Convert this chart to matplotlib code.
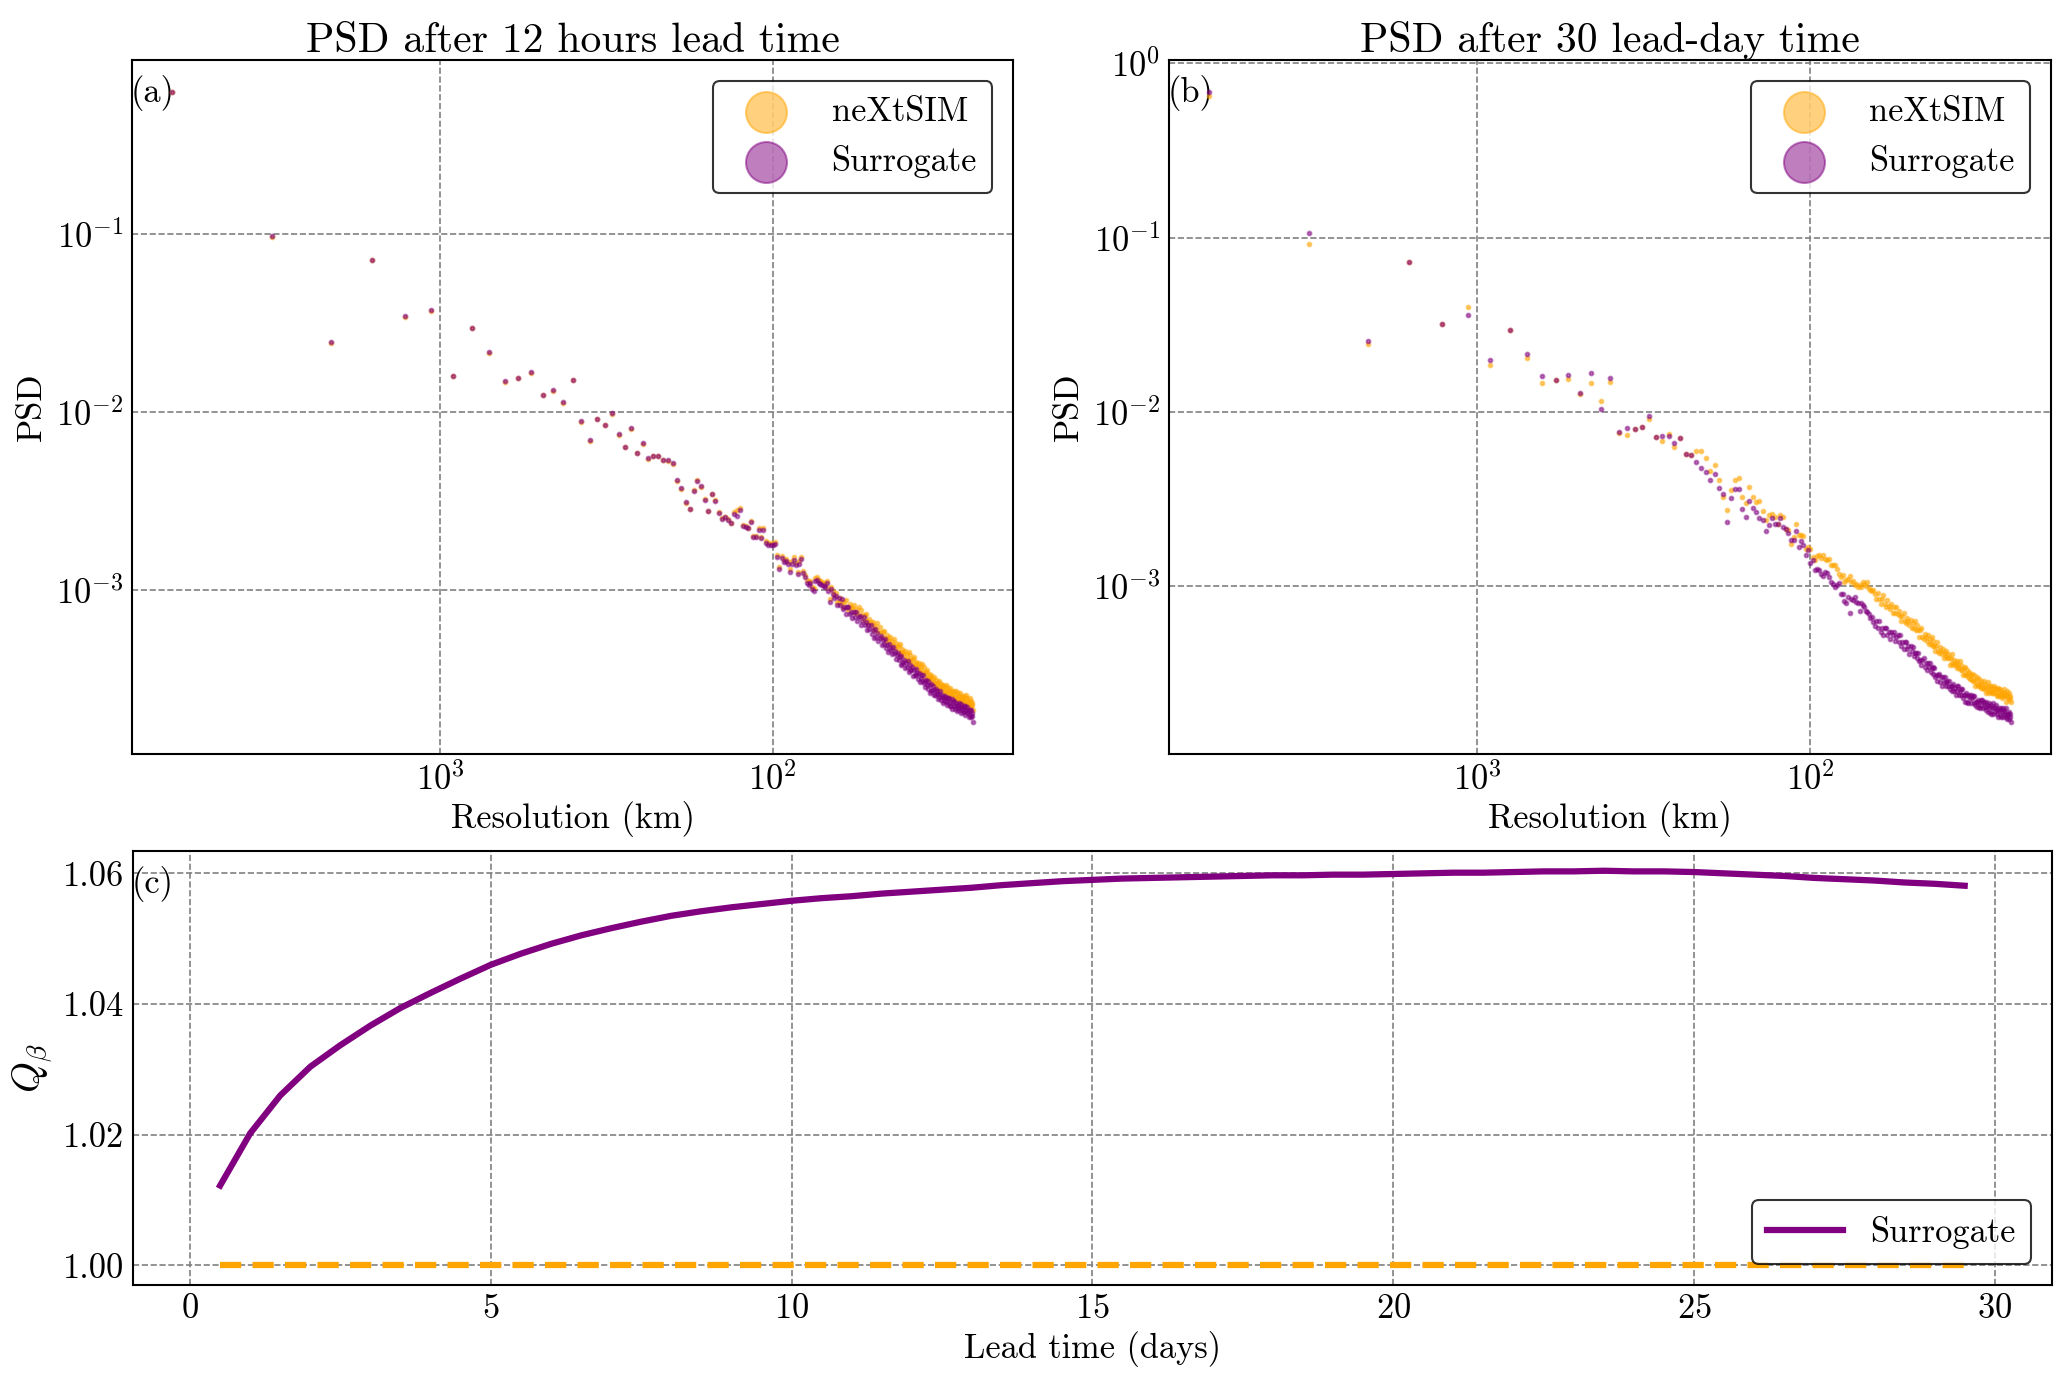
import numpy as np
import matplotlib
matplotlib.use("Agg")
import matplotlib.pyplot as plt

# ---------------- data ----------------
domain_km = 6400.0
wavenumber = np.arange(1, 257)

log_psd_a_nextsim = [
    -0.205, -1.020, -1.615, -1.146, -1.466, -1.431, -1.800, -1.530, -1.667, -1.832,
    -1.812, -1.782, -1.906, -1.880, -1.948, -1.822, -2.055, -2.162, -2.042, -2.074,
    -2.012, -2.128, -2.200, -2.095, -2.233, -2.178, -2.263, -2.249, -2.248, -2.270,
    -2.275, -2.291, -2.386, -2.432, -2.510, -2.547, -2.440, -2.385, -2.421, -2.492,
    -2.555, -2.460, -2.497, -2.562, -2.596, -2.588, -2.603, -2.622, -2.565, -2.553,
    -2.541, -2.636, -2.642, -2.650, -2.614, -2.698, -2.695, -2.652, -2.702, -2.650,
    -2.728, -2.738, -2.735, -2.740, -2.733, -2.805, -2.872, -2.812, -2.835, -2.825,
    -2.842, -2.885, -2.838, -2.818, -2.848, -2.900, -2.840, -2.815, -2.895, -2.918,
    -2.945, -2.958, -2.950, -2.982, -2.992, -2.934, -2.930, -2.945, -2.952, -2.958,
    -2.962, -2.968, -2.950, -2.990, -3.050, -2.982, -3.008, -3.028, -3.018, -3.068,
    -3.072, -3.043, -3.068, -3.099, -3.068, -3.058, -3.097, -3.111, -3.080, -3.095,
    -3.104, -3.085, -3.130, -3.105, -3.130, -3.095, -3.145, -3.115, -3.140, -3.170,
    -3.142, -3.133, -3.175, -3.192, -3.163, -3.180, -3.197, -3.178, -3.225, -3.202,
    -3.218, -3.185, -3.237, -3.208, -3.235, -3.267, -3.238, -3.230, -3.270, -3.285,
    -3.255, -3.270, -3.285, -3.265, -3.310, -3.285, -3.310, -3.275, -3.326, -3.297,
    -3.313, -3.344, -3.315, -3.306, -3.347, -3.363, -3.334, -3.350, -3.364, -3.343,
    -3.388, -3.362, -3.386, -3.350, -3.399, -3.368, -3.393, -3.422, -3.391, -3.380,
    -3.419, -3.433, -3.403, -3.417, -3.431, -3.410, -3.454, -3.428, -3.453, -3.417,
    -3.466, -3.435, -3.460, -3.489, -3.459, -3.448, -3.488, -3.503, -3.472, -3.487,
    -3.501, -3.481, -3.526, -3.500, -3.525, -3.488, -3.536, -3.504, -3.526, -3.554,
    -3.522, -3.510, -3.548, -3.561, -3.529, -3.541, -3.554, -3.532, -3.575, -3.547,
    -3.569, -3.532, -3.579, -3.546, -3.569, -3.596, -3.563, -3.551, -3.588, -3.600,
    -3.568, -3.580, -3.592, -3.570, -3.612, -3.583, -3.605, -3.566, -3.613, -3.580,
    -3.601, -3.628, -3.594, -3.581, -3.617, -3.629, -3.595, -3.607, -3.619, -3.595,
    -3.637, -3.609, -3.631, -3.593, -3.639, -3.606, -3.628, -3.655, -3.622, -3.609,
    -3.646, -3.658, -3.624, -3.636, -3.648, -3.675,
]

log_psd_a_surrogate = [
    -0.200, -1.013, -1.610, -1.144, -1.463, -1.429, -1.796, -1.527, -1.663, -1.828,
    -1.810, -1.778, -1.903, -1.876, -1.945, -1.818, -2.052, -2.156, -2.039, -2.071,
    -2.009, -2.124, -2.196, -2.092, -2.230, -2.174, -2.260, -2.246, -2.246, -2.268,
    -2.273, -2.289, -2.383, -2.429, -2.508, -2.545, -2.444, -2.387, -2.419, -2.494,
    -2.558, -2.462, -2.500, -2.566, -2.600, -2.592, -2.607, -2.626, -2.573, -2.583,
    -2.549, -2.641, -2.648, -2.654, -2.620, -2.705, -2.703, -2.665, -2.711, -2.665,
    -2.737, -2.746, -2.746, -2.746, -2.744, -2.818, -2.880, -2.823, -2.846, -2.836,
    -2.852, -2.897, -2.852, -2.831, -2.861, -2.912, -2.855, -2.829, -2.908, -2.930,
    -2.959, -2.972, -2.964, -2.996, -3.006, -2.949, -2.945, -2.959, -2.968, -2.972,
    -2.977, -2.983, -2.964, -3.006, -3.066, -2.996, -3.024, -3.043, -3.034, -3.085,
    -3.047, -3.085, -3.052, -3.110, -3.096, -3.133, -3.099, -3.095, -3.136, -3.123,
    -3.159, -3.125, -3.150, -3.125, -3.175, -3.150, -3.145, -3.200, -3.175, -3.150,
    -3.197, -3.178, -3.225, -3.197, -3.218, -3.200, -3.247, -3.228, -3.270, -3.222,
    -3.263, -3.245, -3.287, -3.273, -3.260, -3.312, -3.283, -3.305, -3.275, -3.325,
    -3.310, -3.350, -3.305, -3.340, -3.325, -3.360, -3.320, -3.355, -3.341, -3.387,
    -3.368, -3.354, -3.395, -3.376, -3.422, -3.373, -3.414, -3.405, -3.394, -3.438,
    -3.413, -3.432, -3.401, -3.460, -3.424, -3.453, -3.448, -3.432, -3.486, -3.450,
    -3.479, -3.443, -3.478, -3.467, -3.501, -3.470, -3.519, -3.493, -3.478, -3.512,
    -3.481, -3.525, -3.510, -3.544, -3.509, -3.533, -3.513, -3.558, -3.532, -3.577,
    -3.531, -3.566, -3.561, -3.540, -3.590, -3.563, -3.591, -3.559, -3.586, -3.569,
    -3.612, -3.585, -3.603, -3.571, -3.619, -3.601, -3.589, -3.637, -3.600, -3.627,
    -3.594, -3.622, -3.609, -3.646, -3.609, -3.636, -3.608, -3.651, -3.628, -3.650,
    -3.613, -3.670, -3.632, -3.650, -3.627, -3.668, -3.650, -3.636, -3.678, -3.645,
    -3.666, -3.633, -3.674, -3.656, -3.692, -3.644, -3.670, -3.657, -3.689, -3.655,
    -3.682, -3.654, -3.701, -3.673, -3.694, -3.656, -3.688, -3.675, -3.717, -3.674,
    -3.701, -3.673, -3.714, -3.691, -3.708, -3.745,
]

log_psd_b_nextsim = [
    -0.186, -1.038, -1.608, -1.138, -1.495, -1.397, -1.727, -1.528, -1.691, -1.831,
    -1.816, -1.812, -1.895, -1.831, -1.935, -1.827, -2.117, -2.132, -2.096, -2.086,
    -2.037, -2.142, -2.164, -2.127, -2.202, -2.150, -2.242, -2.248, -2.222, -2.222,
    -2.265, -2.336, -2.303, -2.388, -2.486, -2.560, -2.445, -2.390, -2.376, -2.486,
    -2.520, -2.432, -2.486, -2.516, -2.512, -2.566, -2.620, -2.591, -2.582, -2.601,
    -2.641, -2.591, -2.601, -2.668, -2.678, -2.754, -2.716, -2.643, -2.706, -2.706,
    -2.712, -2.783, -2.774, -2.783, -2.831, -2.850, -2.827, -2.818, -2.835, -2.822,
    -2.841, -2.850, -2.841, -2.875, -2.875, -2.879, -2.898, -2.927, -2.946, -2.933,
    -2.975, -2.962, -2.960, -2.942, -2.975, -2.971, -2.994, -2.985, -3.004, -2.994,
    -3.004, -2.975, -2.985, -3.000, -2.975, -3.008, -3.023, -3.027, -3.019, -3.042,
    -3.07, -3.04, -3.07, -3.10, -3.07, -3.05, -3.10, -3.12, -3.08, -3.11,
    -3.13, -3.10, -3.15, -3.12, -3.15, -3.12, -3.16, -3.14, -3.17, -3.20,
    -3.17, -3.15, -3.20, -3.21, -3.18, -3.20, -3.22, -3.19, -3.24, -3.21,
    -3.24, -3.20, -3.25, -3.22, -3.25, -3.29, -3.25, -3.24, -3.29, -3.30,
    -3.27, -3.29, -3.31, -3.28, -3.33, -3.30, -3.33, -3.29, -3.34, -3.31,
    -3.34, -3.37, -3.34, -3.32, -3.37, -3.38, -3.35, -3.37, -3.39, -3.36,
    -3.41, -3.38, -3.40, -3.37, -3.41, -3.39, -3.41, -3.45, -3.41, -3.39,
    -3.44, -3.45, -3.42, -3.44, -3.45, -3.43, -3.47, -3.45, -3.47, -3.43,
    -3.48, -3.45, -3.48, -3.51, -3.47, -3.46, -3.50, -3.51, -3.48, -3.50,
    -3.52, -3.49, -3.53, -3.51, -3.53, -3.50, -3.54, -3.51, -3.54, -3.57,
    -3.53, -3.52, -3.56, -3.57, -3.53, -3.56, -3.57, -3.54, -3.58, -3.56,
    -3.58, -3.54, -3.59, -3.56, -3.58, -3.61, -3.57, -3.55, -3.60, -3.61,
    -3.57, -3.59, -3.60, -3.57, -3.61, -3.59, -3.61, -3.57, -3.61, -3.58,
    -3.60, -3.63, -3.59, -3.58, -3.62, -3.63, -3.59, -3.61, -3.62, -3.60,
    -3.64, -3.61, -3.63, -3.59, -3.63, -3.61, -3.63, -3.66, -3.62, -3.60,
    -3.64, -3.65, -3.61, -3.63, -3.64, -3.66,
]

log_psd_b_surrogate = [
    -0.161, -0.973, -1.593, -1.138, -1.495, -1.445, -1.702, -1.528, -1.666, -1.791,
    -1.816, -1.785, -1.889, -1.774, -1.983, -1.804, -2.116, -2.093, -2.096, -2.086,
    -2.021, -2.141, -2.135, -2.138, -2.177, -2.149, -2.239, -2.247, -2.284, -2.319,
    -2.342, -2.388, -2.355, -2.438, -2.472, -2.628, -2.491, -2.440, -2.440, -2.555,
    -2.603, -2.512, -2.549, -2.570, -2.605, -2.620, -2.681, -2.645, -2.605, -2.639,
    -2.641, -2.605, -2.658, -2.668, -2.691, -2.735, -2.735, -2.681, -2.774, -2.739,
    -2.760, -2.822, -2.793, -2.866, -2.850, -2.908, -2.898, -2.904, -2.927, -2.939,
    -2.917, -2.923, -2.946, -2.975, -2.988, -3.004, -2.994, -2.979, -3.042, -3.042,
    -3.084, -3.096, -3.061, -3.154, -3.071, -3.077, -3.061, -3.090, -3.096, -3.138,
    -3.096, -3.104, -3.119, -3.138, -3.148, -3.157, -3.180, -3.173, -3.205, -3.225,
    -3.20, -3.24, -3.20, -3.26, -3.24, -3.28, -3.24, -3.24, -3.28, -3.26,
    -3.30, -3.26, -3.28, -3.26, -3.31, -3.29, -3.28, -3.32, -3.28, -3.34,
    -3.32, -3.36, -3.32, -3.32, -3.36, -3.34, -3.39, -3.34, -3.37, -3.35,
    -3.40, -3.38, -3.38, -3.41, -3.38, -3.43, -3.42, -3.45, -3.42, -3.41,
    -3.46, -3.44, -3.48, -3.44, -3.46, -3.44, -3.49, -3.47, -3.46, -3.50,
    -3.47, -3.52, -3.51, -3.54, -3.51, -3.50, -3.55, -3.52, -3.57, -3.52,
    -3.55, -3.52, -3.57, -3.55, -3.54, -3.57, -3.54, -3.59, -3.57, -3.60,
    -3.57, -3.56, -3.60, -3.58, -3.62, -3.57, -3.60, -3.57, -3.62, -3.60,
    -3.59, -3.62, -3.59, -3.64, -3.62, -3.66, -3.62, -3.61, -3.66, -3.63,
    -3.67, -3.62, -3.64, -3.62, -3.67, -3.64, -3.63, -3.67, -3.63, -3.68,
    -3.66, -3.69, -3.66, -3.65, -3.69, -3.66, -3.70, -3.65, -3.68, -3.65,
    -3.70, -3.67, -3.66, -3.69, -3.66, -3.71, -3.69, -3.72, -3.68, -3.67,
    -3.72, -3.69, -3.73, -3.68, -3.70, -3.67, -3.73, -3.70, -3.69, -3.72,
    -3.68, -3.73, -3.71, -3.75, -3.71, -3.70, -3.74, -3.71, -3.75, -3.70,
    -3.72, -3.70, -3.75, -3.72, -3.71, -3.74, -3.70, -3.75, -3.73, -3.76,
    -3.73, -3.72, -3.76, -3.73, -3.75, -3.78,
]

lead_time_days = np.arange(0.5, 30.0, 0.5)
q_beta_surrogate = [
    1.0122, 1.0202, 1.0260, 1.0304, 1.0337, 1.0367, 1.0394, 1.0417, 1.0439, 1.0460,
    1.0477, 1.0492, 1.0505, 1.0516, 1.0526, 1.0535, 1.0542, 1.0548, 1.0553, 1.0558,
    1.0562, 1.0565, 1.0569, 1.0572, 1.0575, 1.0578, 1.0582, 1.0585, 1.0588, 1.0590,
    1.0592, 1.0593, 1.0594, 1.0595, 1.0596, 1.0597, 1.0597, 1.0598, 1.0598, 1.0599,
    1.0600, 1.0601, 1.0601, 1.0602, 1.0603, 1.0603, 1.0604, 1.0603, 1.0603, 1.0602,
    1.0600, 1.0598, 1.0596, 1.0593, 1.0591, 1.0589, 1.0586, 1.0584, 1.0581,
]
q_beta_nextsim = [1.0] * len(q_beta_surrogate)

titles = ["PSD after 12 hours lead time", "PSD after 30 lead-day time"]
panel_tags = ["(a)", "(b)", "(c)"]

# ---------------- style ----------------
plt.rcParams["font.family"] = ["cmr10", "DejaVu Serif"]
plt.rcParams["mathtext.fontset"] = "cm"
plt.rcParams["axes.formatter.use_mathtext"] = True
plt.rcParams["axes.unicode_minus"] = False

FS = 16.5
C_NEX = "orange"
C_SUR = "purple"

DPI = 150
fig = plt.figure(figsize=(2067 / DPI, 1386 / DPI), dpi=DPI)

ax_a = fig.add_axes([0.0639, 0.456, 0.4262, 0.5007])
ax_b = fig.add_axes([0.5655, 0.456, 0.4267, 0.5007])
ax_c = fig.add_axes([0.0643, 0.0729, 0.9284, 0.3131])

resolution_km = domain_km / wavenumber


def style_axes(ax):
    ax.grid(True, which="major", linestyle="--", color="gray", linewidth=0.8)
    ax.set_axisbelow(True)
    for sp in ax.spines.values():
        sp.set_linewidth(1.0)
        sp.set_color("black")
    ax.tick_params(which="both", length=0, pad=4, labelsize=FS)


def tag(ax, text):
    ax.annotate(text, xy=(0, 1), xycoords="axes fraction", xytext=(-0.5, -7),
                textcoords="offset points", ha="left", va="top", fontsize=FS,
                zorder=2)


for ax, nex, sur, title, t in [
    (ax_a, log_psd_a_nextsim, log_psd_a_surrogate, titles[0], panel_tags[0]),
    (ax_b, log_psd_b_nextsim, log_psd_b_surrogate, titles[1], panel_tags[1]),
]:
    ax.scatter(resolution_km, 10.0 ** np.asarray(nex), s=3.2, color=C_NEX,
               alpha=0.5, linewidths=1.0, label="neXtSIM", zorder=3)
    ax.scatter(resolution_km, 10.0 ** np.asarray(sur), s=3.2, color=C_SUR,
               alpha=0.5, linewidths=1.0, label="Surrogate", zorder=4)
    ax.set_xscale("log")
    ax.set_yscale("log")
    ax.invert_xaxis()
    style_axes(ax)
    ax.set_title(title, fontsize=20, pad=4)
    ax.set_xlabel("Resolution (km)", fontsize=FS, labelpad=2)
    ax.set_ylabel("PSD", fontsize=FS)
    leg = ax.legend(loc="upper right", fontsize=FS, markerscale=11.0,
                    handlelength=2.2, handletextpad=0.8, borderpad=0.45,
                    labelspacing=0.5, fancybox=True, edgecolor="black",
                    borderaxespad=0.6)
    leg.get_frame().set_linewidth(1.0)
    tag(ax, t)

# panel c
ax_c.plot(lead_time_days, q_beta_nextsim, color=C_NEX, lw=3.0, dashes=(3.4, 1.8), zorder=3)
ax_c.plot(lead_time_days, q_beta_surrogate, color=C_SUR, lw=3.0, label="Surrogate", zorder=4)
style_axes(ax_c)
ax_c.set_yticks([1.00, 1.02, 1.04, 1.06])
ax_c.set_yticklabels(["1.00", "1.02", "1.04", "1.06"])
ax_c.set_xticks([0, 5, 10, 15, 20, 25, 30])
ax_c.set_xlabel("Lead time (days)", fontsize=FS, labelpad=3)
ax_c.set_ylabel(r"$Q_\beta$", fontsize=19)
leg = ax_c.legend(loc="lower right", fontsize=FS, handlelength=2.2,
                  handletextpad=0.8, borderpad=0.45, fancybox=True,
                  edgecolor="black", borderaxespad=0.6)
leg.get_frame().set_linewidth(1.0)
tag(ax_c, panel_tags[2])

fig.savefig("out.png", dpi=DPI)
